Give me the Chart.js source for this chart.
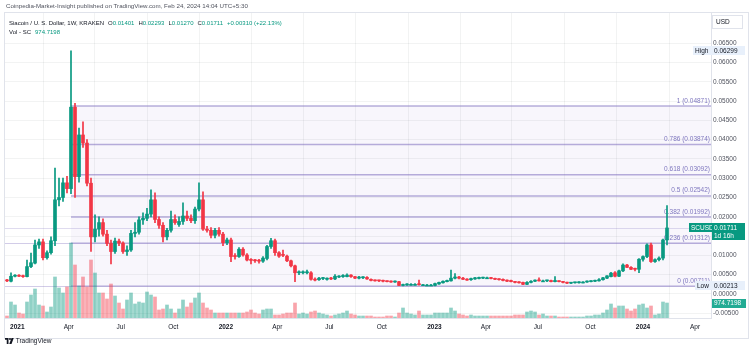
<!DOCTYPE html>
<html>
<head>
<meta charset="utf-8">
<script src="https://cdn.jsdelivr.net/npm/chart.js@4.4.1/dist/chart.umd.min.js"></script>
<style>
body{margin:0;width:750px;height:352px;background:#fff;overflow:hidden;position:relative;font-family:"Liberation Sans",Arial,sans-serif;}
#wrap{position:absolute;left:0;top:0;width:750px;height:352px;}
.t{position:absolute;white-space:nowrap;line-height:1;color:#131722;}
.g{color:#089981;}
.t span{margin-left:4px;}
</style>
</head>
<body>
<div id="wrap"><canvas id="c" width="750" height="352"></canvas></div>
<div class="t" style="left:6px;top:3px;font-size:6.2px;color:#50535e">Coinpedia-Market-Insight published on TradingView.com, Feb 24, 2024 14:04 UTC+5:30</div>
<div class="t" style="left:9px;top:19.5px;font-size:6px">Siacoin / U. S. Dollar, 1W, KRAKEN<span>O<i class="g" style="font-style:normal">0.01401</i></span><span>H<i class="g" style="font-style:normal">0.02293</i></span><span>L<i class="g" style="font-style:normal">0.01270</i></span><span>C<i class="g" style="font-style:normal">0.01711</i></span><span class="g">+0.00310 (+22.13%)</span></div>
<div class="t" style="left:9px;top:29px;font-size:6px">Vol - SC<span class="g">974.7198</span></div>
<div class="t" style="left:5px;top:338px;font-size:6.5px;color:#131722">
<svg width="9" height="6" viewBox="0 0 36 24" style="vertical-align:-1px"><path d="M0 0h14v24H7V7H0z" fill="#131722"/><circle cx="20" cy="4" r="4" fill="#131722"/><path d="M26 0h9l-9 24h-9z" fill="#131722"/></svg> TradingView</div>
<script>
// weekly candles, first week starts Mon 14 Dec 2020
const firstWeek = "2020-12-14";
const open = [0.0036,0.0033,0.0046,0.0048,0.0047,0.0045,0.0071,0.0080,0.0127,0.0135,0.0094,0.0107,0.0138,0.0244,0.0250,0.0288,0.0273,0.0484,0.0304,0.0412,
0.0391,0.0287,0.0148,0.0168,0.0185,0.0155,0.0131,0.0110,0.0137,0.0132,0.0110,0.0114,0.0157,0.0160,0.0192,0.0196,0.0207,0.0244,0.0193,0.0178,
0.0148,0.0165,0.0193,0.0180,0.0188,0.0202,0.0196,0.0190,0.0220,0.0244,0.0168,0.0165,0.0152,0.0165,0.0155,0.0133,0.0140,0.0099,0.0097,0.0116,
0.0101,0.0088,0.0087,0.0086,0.0085,0.0092,0.0123,0.0138,0.0107,0.0102,0.0098,0.0086,0.0073,0.0055,0.0055,0.0055,0.0055,0.0038,0.0037,0.0040,
0.0038,0.0041,0.0039,0.0044,0.0045,0.0045,0.0049,0.0045,0.0041,0.0042,0.0043,0.0038,0.0035,0.0035,0.0034,0.0033,0.0032,0.0031,0.0032,0.0022,
0.0023,0.0025,0.0025,0.0026,0.0024,0.0023,0.0023,0.0022,0.0026,0.0029,0.0032,0.0034,0.0041,0.0044,0.0041,0.0038,0.0037,0.0039,0.0040,0.0041,
0.0042,0.0042,0.0040,0.0039,0.0038,0.0036,0.0035,0.0032,0.0031,0.0030,0.0025,0.0030,0.0033,0.0036,0.0034,0.0034,0.0035,0.0032,0.0033,0.0032,
0.0030,0.0028,0.0029,0.0029,0.0031,0.0031,0.0032,0.0033,0.0034,0.0037,0.0041,0.0045,0.0055,0.0046,0.0060,0.0075,0.0069,0.0065,0.0064,0.0090,
0.0097,0.0127,0.0084,0.0089,0.0093,0.01401];
const high = [0.0038,0.0055,0.0050,0.0050,0.0049,0.0088,0.0106,0.0140,0.0142,0.0142,0.0112,0.0148,0.0326,0.0300,0.0300,0.0305,0.06299,0.0494,0.0430,0.0446,
0.0400,0.0300,0.0205,0.0200,0.0195,0.0165,0.0140,0.0145,0.0142,0.0135,0.0125,0.0165,0.0185,0.0200,0.0210,0.0222,0.0270,0.0262,0.0200,0.0185,
0.0170,0.0215,0.0205,0.0200,0.0236,0.0215,0.0205,0.0225,0.0288,0.0265,0.0175,0.0172,0.0170,0.0172,0.0160,0.0145,0.0145,0.0105,0.0120,0.0120,
0.0105,0.0092,0.0090,0.0090,0.0097,0.0126,0.0144,0.0142,0.0110,0.0114,0.0101,0.0088,0.0075,0.0060,0.0060,0.0062,0.0058,0.0042,0.0043,0.0043,
0.0042,0.0043,0.0050,0.0048,0.0050,0.0052,0.0050,0.0046,0.0046,0.0045,0.0045,0.0039,0.0037,0.0036,0.0036,0.0034,0.0034,0.0034,0.0033,0.0026,
0.0027,0.0027,0.0027,0.0036,0.0025,0.0025,0.0025,0.0028,0.0031,0.0034,0.0036,0.0062,0.0053,0.0046,0.0043,0.0040,0.0041,0.0043,0.0044,0.0044,
0.0044,0.0043,0.0041,0.0040,0.0039,0.0037,0.0036,0.0033,0.0032,0.0031,0.0032,0.0035,0.0037,0.0042,0.0036,0.0036,0.0036,0.0045,0.0034,0.0033,
0.0031,0.0030,0.0031,0.0032,0.0032,0.0034,0.0035,0.0036,0.0040,0.0043,0.0048,0.0056,0.0058,0.0062,0.0078,0.0077,0.0071,0.0067,0.0092,0.0099,
0.0130,0.0132,0.0091,0.0096,0.0142,0.02293];
const low = [0.0032,0.0031,0.0044,0.0045,0.0043,0.0044,0.0068,0.0078,0.0118,0.0088,0.0090,0.0103,0.0125,0.0228,0.0240,0.0262,0.0260,0.0250,0.0290,0.0380,
0.0280,0.0110,0.0135,0.0150,0.0150,0.0125,0.0078,0.0105,0.0125,0.0105,0.0100,0.0110,0.0148,0.0155,0.0180,0.0190,0.0200,0.0185,0.0170,0.0135,
0.0140,0.0160,0.0180,0.0175,0.0180,0.0190,0.0185,0.0183,0.0215,0.0165,0.0160,0.0145,0.0145,0.0150,0.0125,0.0128,0.0084,0.0090,0.0095,0.0098,
0.0086,0.0078,0.0082,0.0080,0.0082,0.0088,0.0118,0.0100,0.0095,0.0097,0.0084,0.0070,0.0032,0.0050,0.0052,0.0052,0.0036,0.0034,0.0035,0.0037,
0.0036,0.0037,0.0037,0.0042,0.0043,0.0044,0.0043,0.0040,0.0039,0.0040,0.0038,0.0034,0.0033,0.0032,0.0031,0.0031,0.0030,0.0030,0.00213,0.0021,
0.0022,0.0023,0.0023,0.0023,0.0022,0.0022,0.0022,0.0021,0.0025,0.0028,0.0031,0.0033,0.0039,0.0039,0.0037,0.0035,0.0035,0.0038,0.0039,0.0040,
0.0040,0.0039,0.0037,0.0036,0.0034,0.0032,0.0031,0.0029,0.0028,0.0024,0.0024,0.0029,0.0032,0.0033,0.0032,0.0032,0.0031,0.0031,0.0031,0.0029,
0.0027,0.0027,0.0028,0.0028,0.0029,0.0030,0.0031,0.0032,0.0033,0.0036,0.0040,0.0044,0.0044,0.0045,0.0058,0.0068,0.0063,0.0060,0.0055,0.0085,
0.0094,0.0082,0.0082,0.0086,0.0088,0.01270];
const close = [0.0034,0.0046,0.0047,0.0046,0.0045,0.0071,0.0081,0.0127,0.0135,0.0094,0.0107,0.0138,0.0244,0.0250,0.0288,0.0273,0.0484,0.0304,0.0412,0.0391,
0.0287,0.0148,0.0168,0.0185,0.0155,0.0131,0.0110,0.0137,0.0132,0.0110,0.0114,0.0157,0.0160,0.0192,0.0196,0.0207,0.0244,0.0193,0.0178,0.0148,
0.0165,0.0193,0.0185,0.0188,0.0202,0.0196,0.0190,0.0220,0.0244,0.0168,0.0165,0.0152,0.0165,0.0155,0.0133,0.0140,0.0097,0.0097,0.0116,0.0101,
0.0088,0.0087,0.0086,0.0085,0.0093,0.0123,0.0138,0.0107,0.0098,0.0100,0.0086,0.0073,0.0055,0.0056,0.0057,0.0057,0.0038,0.0036,0.0041,0.0041,
0.0041,0.0039,0.0046,0.0046,0.0048,0.0049,0.0045,0.0041,0.0044,0.0043,0.0039,0.0035,0.0034,0.0034,0.0033,0.0032,0.0031,0.0032,0.0022,0.0024,
0.0026,0.0025,0.0025,0.0024,0.0024,0.0023,0.0023,0.0027,0.0030,0.0033,0.0035,0.0041,0.0044,0.0041,0.0038,0.0036,0.0040,0.0042,0.0043,0.0042,
0.0042,0.0040,0.0038,0.0037,0.0035,0.0033,0.0032,0.0030,0.0029,0.0025,0.0030,0.0033,0.0036,0.0034,0.0034,0.0035,0.0032,0.0035,0.0032,0.0030,
0.0028,0.0029,0.0030,0.0031,0.0031,0.0033,0.0034,0.0035,0.0037,0.0042,0.0047,0.0054,0.0046,0.0060,0.0075,0.0069,0.0064,0.0064,0.0090,0.0097,
0.0127,0.0084,0.0089,0.0093,0.0140,0.01711];
const volume = [130,1040,845,325,260,1040,1495,1885,845,780,390,715,2665,1950,1625,2015,4875,3445,2080,2665,
2015,3770,2925,1625,1625,1235,2210,1430,975,585,1170,1625,910,1040,975,1690,1495,1365,520,585,
845,585,325,585,1170,715,975,1300,1625,975,650,520,325,325,325,325,325,325,325,325,
390,520,325,260,520,585,585,195,195,260,325,325,975,260,325,260,390,455,325,260,
195,130,195,260,325,455,260,195,130,130,130,130,65,65,65,130,130,65,325,650,
325,260,195,455,195,195,195,325,325,325,325,650,455,260,195,130,195,130,130,130,
130,130,130,130,130,130,130,195,195,195,390,455,390,195,260,130,130,130,65,65,
65,65,65,65,65,130,130,195,195,325,520,910,650,780,780,585,455,585,845,910,
650,780,195,260,1040,974.7198];

const timeTickDates = ["2021-01-01","2021-04-01","2021-07-01","2021-10-01","2022-01-01","2022-04-01","2022-07-01","2022-10-01",
  "2023-01-01","2023-04-01","2023-07-01","2023-10-01","2024-01-01","2024-04-01"];
const timeTickLabels = ["2021","Apr","Jul","Oct","2022","Apr","Jul","Oct","2023","Apr","Jul","Oct","2024","Apr"];
const priceTicks = [-0.005,0,0.005,0.01,0.015,0.02,0.025,0.03,0.035,0.04,0.045,0.05,0.055,0.06,0.065];

const fibRatios = ["1","0.786","0.618","0.5","0.382","0.236","0"];
const fibPrices = ["0.04871","0.03874","0.03092","0.02542","0.01992","0.01312","0.00711"];
const fibLineAt = [0.04871,0.03874,0.03092,0.02542,0.01992,0.01312,0.0020];
const fibStartWeek = 16;
const rayLines = [0.01312,0.0020];
const highVal = 0.06299, lowVal = 0.00213, lastClose = 0.01711, lastVol = 974.7198;

const UP = '#089981', DN = '#f23645';
const weekMs = 7 * 864e5;
const t0 = Date.parse(firstWeek);
const idx = open.map((_, i) => i);
const isUp = idx.map(i => close[i] >= open[i]);
const candleCol = isUp.map(u => u ? UP : DN);
const volCol = isUp.map(u => u ? 'rgba(8,153,129,0.45)' : 'rgba(242,54,69,0.45)');

function tag(ctx, x, yc, w, bg, fg, text, bold) {
  ctx.fillStyle = bg;
  ctx.fillRect(x, Math.round(yc - 4.5), w, 9);
  ctx.fillStyle = fg;
  ctx.font = (bold ? 'bold ' : '') + '6.5px "Liberation Sans", Arial, sans-serif';
  ctx.textBaseline = 'middle';
  ctx.textAlign = 'left';
  ctx.fillText(text, x + 2, yc + 0.5);
}

const overlay = {
  id: 'overlay',
  beforeDraw(chart) {
    const ctx = chart.ctx;
    ctx.save();
    ctx.strokeStyle = '#e0e3eb';
    ctx.lineWidth = 1;
    ctx.strokeRect(4.5, 12.5, 744, 326);
    ctx.restore();
  },
  beforeDatasetsDraw(chart) {
    const { ctx, chartArea: a, scales: { x, y } } = chart;
    const x0 = x.getPixelForValue(fibStartWeek);
    const yTop = y.getPixelForValue(fibLineAt[0]);
    const yBot = y.getPixelForValue(fibLineAt[fibLineAt.length - 1]);
    ctx.save();
    ctx.fillStyle = 'rgba(126,87,194,0.05)';
    ctx.fillRect(x0, yTop, a.right - x0, yBot - yTop);
    ctx.strokeStyle = 'rgba(126,110,190,0.35)';
    ctx.lineWidth = 1;
    rayLines.forEach(v => {
      const py = Math.round(y.getPixelForValue(v)) + 0.5;
      ctx.beginPath(); ctx.moveTo(a.left, py); ctx.lineTo(x0, py); ctx.stroke();
    });
    // current price line
    const pl = Math.round(y.getPixelForValue(lastClose)) + 0.5;
    ctx.strokeStyle = 'rgba(126,110,190,0.25)';
    ctx.beginPath(); ctx.moveTo(a.left, pl); ctx.lineTo(a.right, pl); ctx.stroke();
    ctx.strokeStyle = 'rgba(126,110,190,0.55)';
    ctx.lineWidth = 1.5;
    ctx.font = '6.5px "Liberation Sans", Arial, sans-serif';
    ctx.textAlign = 'right';
    ctx.textBaseline = 'bottom';
    fibLineAt.forEach((v, i) => {
      const py = y.getPixelForValue(v);
      ctx.beginPath(); ctx.moveTo(x0, py); ctx.lineTo(a.right, py); ctx.stroke();
      ctx.fillStyle = '#7f77bf';
      ctx.fillText(fibRatios[i] + ' (' + fibPrices[i] + ')', a.right - 1, py - 2);
    });
    ctx.restore();
  },
  afterDraw(chart) {
    const { ctx, scales: { y, vol } } = chart;
    ctx.save();
    // currency box
    ctx.fillStyle = '#fff';
    ctx.fillRect(712, 15, 31, 14);
    ctx.strokeStyle = '#e0e3eb';
    ctx.strokeRect(712.5, 15.5, 30, 13);
    ctx.fillStyle = '#131722';
    ctx.font = '6.5px "Liberation Sans", Arial, sans-serif';
    ctx.textBaseline = 'middle';
    ctx.fillText('USD', 716, 22.5);
    const yh = y.getPixelForValue(highVal);
    tag(ctx, 693, yh, 19, '#e8f0fb', '#131722', 'High');
    tag(ctx, 712, yh, 33, '#e8f0fb', '#131722', highVal.toFixed(5));
    const yl = y.getPixelForValue(lowVal);
    tag(ctx, 695, yl, 17, '#e8f0fb', '#131722', 'Low');
    tag(ctx, 712, yl, 33, '#e8f0fb', '#131722', lowVal.toFixed(5));
    const yc = y.getPixelForValue(lastClose);
    tag(ctx, 689, yc, 23, UP, '#fff', 'SCUSD');
    tag(ctx, 712, yc, 33, UP, '#fff', lastClose.toFixed(5));
    tag(ctx, 712, yc + 8, 33, UP, '#fff', '1d 16h');
    const yv = vol.getPixelForValue(lastVol);
    tag(ctx, 712, yv, 34, '#22ab94', '#fff', lastVol.toFixed(4));
    ctx.restore();
  }
};

new Chart(document.getElementById('c'), {
  type: 'bar',
  data: {
    datasets: [
      {
        label: 'Volume', yAxisID: 'vol', grouped: false, barThickness: 3,
        data: idx.map(i => ({ x: i, y: volume[i] })),
        backgroundColor: volCol, order: 3
      },
      {
        label: 'Wick', yAxisID: 'y', grouped: false, barThickness: 1,
        data: idx.map(i => ({ x: i, y: [low[i], high[i]] })),
        backgroundColor: candleCol, order: 2
      },
      {
        label: 'Body', yAxisID: 'y', grouped: false, barThickness: 3, minBarLength: 1,
        data: idx.map(i => ({ x: i, y: [open[i], close[i]] })),
        backgroundColor: candleCol, order: 1
      }
    ]
  },
  options: {
    responsive: false,
    animation: false,
    devicePixelRatio: 1,
    layout: { padding: { left: 5, right: 0, top: 13, bottom: 14 } },
    plugins: { legend: { display: false }, tooltip: { enabled: false } },
    scales: {
      x: {
        type: 'linear', min: -0.5, max: 176, offset: false,
        afterBuildTicks: s => { s.ticks = timeTickDates.map(d => ({ value: (Date.parse(d) - t0) / weekMs })); },
        afterFit: s => { s.height = 20; },
        grid: { color: 'rgba(42,46,57,0.06)', drawTicks: false },
        border: { color: '#e0e3eb' },
        ticks: {
          padding: 5, color: '#131722', maxRotation: 0, autoSkip: false,
          font: c => ({ size: 6.5, family: '"Liberation Sans", Arial, sans-serif', weight: /^\d/.test(timeTickLabels[c.index] || '') ? 'bold' : 'normal' }),
          callback: (v, i) => timeTickLabels[i]
        }
      },
      y: {
        position: 'right', min: -0.00622, max: 0.0728,
        afterBuildTicks: s => { s.ticks = priceTicks.map(v => ({ value: v })); },
        afterFit: s => { s.width = 39; },
        grid: { color: 'rgba(42,46,57,0.06)', drawTicks: false },
        border: { color: '#e0e3eb' },
        ticks: {
          padding: 2, color: '#50535e',
          font: { size: 6.5, family: '"Liberation Sans", Arial, sans-serif' },
          callback: v => v.toFixed(5)
        }
      },
      vol: { display: false, min: 0, max: 19825 }
    }
  },
  plugins: [overlay]
});
</script>
</body>
</html>
